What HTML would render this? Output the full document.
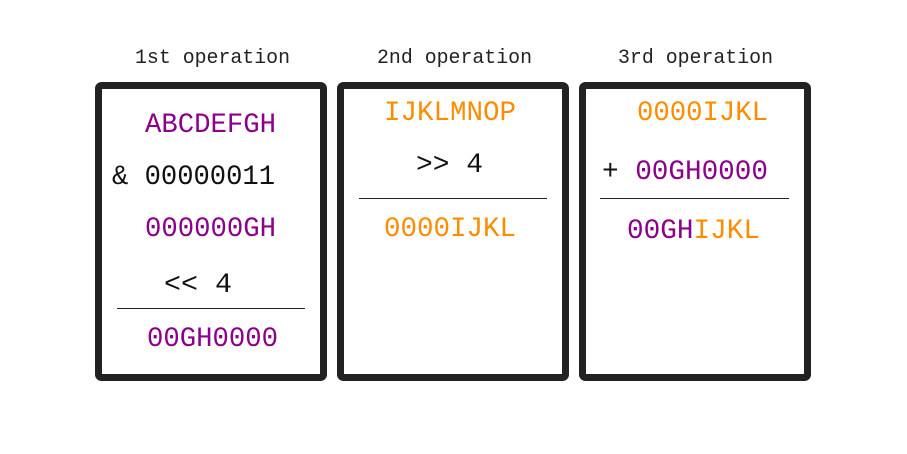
<!DOCTYPE html>
<html><head><style>body{margin:0;background:#fff}svg{display:block}</style></head>
<body>
<svg width="907" height="454" xmlns="http://www.w3.org/2000/svg" font-family="Liberation Mono, DejaVu Sans Mono, monospace">
<rect x="0" y="0" width="907" height="454" fill="#fff"/>
<g fill="none" stroke="#222" stroke-width="7">
<rect x="98.5" y="85.5" width="225" height="292" rx="3"/>
<rect x="340.5" y="85.5" width="225" height="292" rx="3"/>
<rect x="582.5" y="85.5" width="225" height="292" rx="3"/>
</g>
<g stroke="#222" stroke-width="1">
<line x1="117" y1="308.5" x2="305" y2="308.5"/>
<line x1="359" y1="198.5" x2="547" y2="198.5"/>
<line x1="600" y1="198.5" x2="789" y2="198.5"/>
</g>
<g font-size="20" fill="#222">
<text x="135" y="63" textLength="155" lengthAdjust="spacingAndGlyphs">1st operation</text>
<text x="377" y="63" textLength="155" lengthAdjust="spacingAndGlyphs">2nd operation</text>
<text x="618" y="63" textLength="155" lengthAdjust="spacingAndGlyphs">3rd operation</text>
</g>
<g font-size="28">
<text x="145" y="132" fill="#8b008b" textLength="131" lengthAdjust="spacingAndGlyphs">ABCDEFGH</text>
<text x="112" y="184" fill="#111" textLength="163" lengthAdjust="spacingAndGlyphs">&amp; 00000011</text>
<text x="145" y="236" fill="#8b008b" textLength="131" lengthAdjust="spacingAndGlyphs">000000GH</text>
<text x="164" y="292" fill="#111" textLength="68" lengthAdjust="spacingAndGlyphs">&lt;&lt; 4</text>
<text x="147" y="346" fill="#8b008b" textLength="131" lengthAdjust="spacingAndGlyphs">00GH0000</text>

<text x="384" y="120" fill="#ff8c00" textLength="132" lengthAdjust="spacingAndGlyphs">IJKLMNOP</text>
<text x="416" y="172" fill="#111" textLength="67" lengthAdjust="spacingAndGlyphs">&gt;&gt; 4</text>
<text x="384" y="236" fill="#ff8c00" textLength="132" lengthAdjust="spacingAndGlyphs">0000IJKL</text>

<text x="637" y="120" fill="#ff8c00" textLength="131" lengthAdjust="spacingAndGlyphs">0000IJKL</text>
<text x="602" y="179" textLength="166" lengthAdjust="spacingAndGlyphs"><tspan fill="#111">+ </tspan><tspan fill="#8b008b">00GH0000</tspan></text>
<text x="627" y="238" textLength="133" lengthAdjust="spacingAndGlyphs"><tspan fill="#8b008b">00GH</tspan><tspan fill="#ff8c00">IJKL</tspan></text>
</g>
</svg>
</body></html>
